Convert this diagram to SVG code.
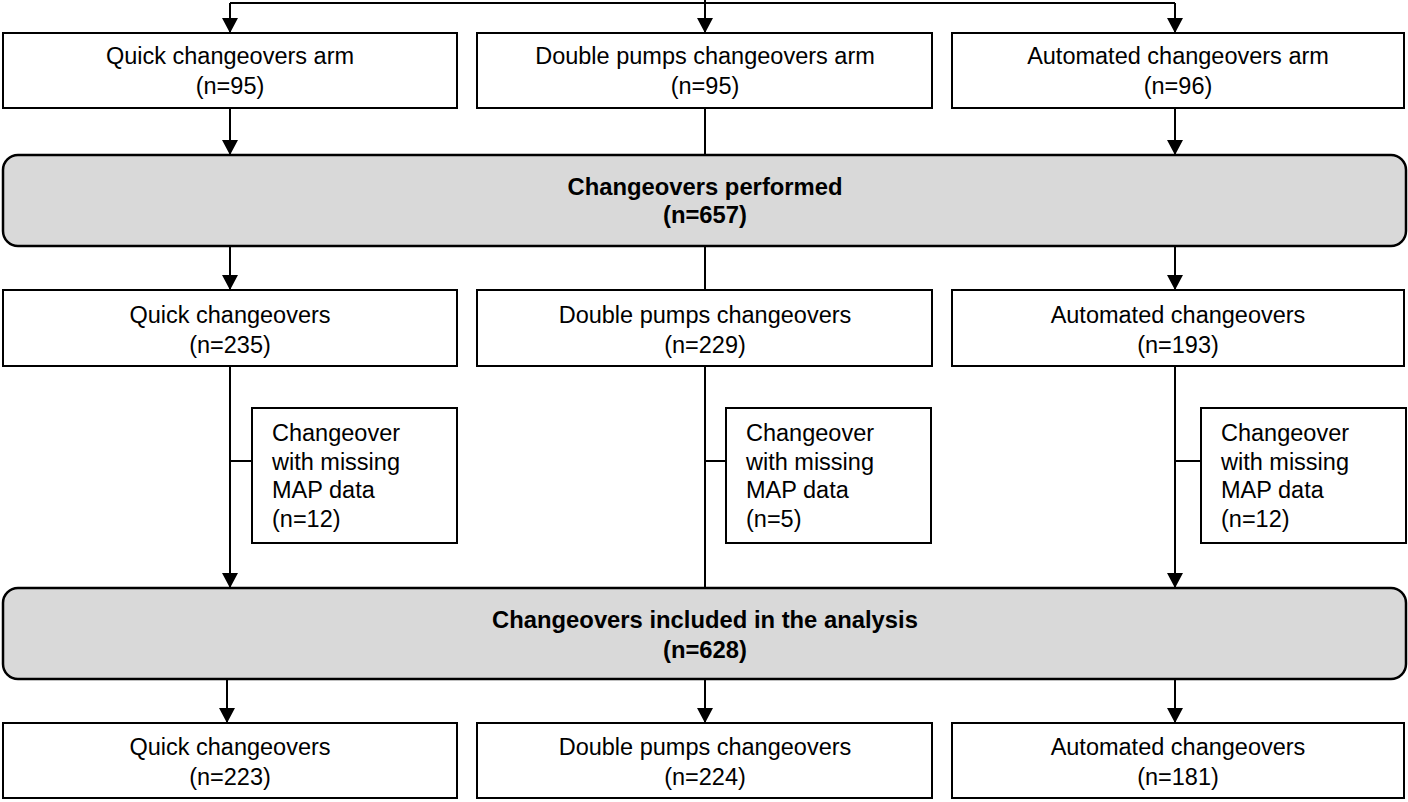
<svg xmlns="http://www.w3.org/2000/svg" width="1408" height="802" viewBox="0 0 1408 802">
<defs>
<marker id="arr" markerWidth="16" markerHeight="16" refX="15" refY="8" orient="auto" markerUnits="userSpaceOnUse">
<path d="M0,0 L15,8 L0,16 Z" fill="#000"/>
</marker>
<style>
.box{fill:#fff;stroke:#000;stroke-width:2}
.gray{fill:#d9d9d9;stroke:#000;stroke-width:2.5}
.t{font-family:"Liberation Sans",Arial,sans-serif;font-size:23.5px;fill:#000;text-anchor:middle}
.b{font-family:"Liberation Sans",Arial,sans-serif;font-size:23.8px;font-weight:bold;fill:#000;text-anchor:middle}
.l{font-family:"Liberation Sans",Arial,sans-serif;font-size:23.5px;fill:#000}
.c{fill:none;stroke:#000;stroke-width:2}
.ca{fill:none;stroke:#000;stroke-width:2;marker-end:url(#arr)}
</style>
</defs>
<rect width="1408" height="802" fill="#fff"/>
<g id="connectors">
<path class="c" d="M705,0 L705,3"/>
<path class="c" d="M230,3 L1175,3"/>
<path class="ca" d="M230,3 L230,33"/>
<path class="ca" d="M705,3 L705,33"/>
<path class="ca" d="M1175,3 L1175,33"/>
<path class="ca" d="M230,108 L230,155"/>
<path class="c" d="M705,108 L705,155"/>
<path class="ca" d="M1175,108 L1175,155"/>
<path class="ca" d="M230,246 L230,290"/>
<path class="c" d="M705,246 L705,290"/>
<path class="ca" d="M1175,246 L1175,290"/>
<path class="ca" d="M230,366 L230,588"/>
<path class="c" d="M705,366 L705,588"/>
<path class="ca" d="M1175,366 L1175,588"/>
<path class="c" d="M230,461 L252,461"/>
<path class="c" d="M705,461 L726,461"/>
<path class="c" d="M1175,461 L1201,461"/>
<path class="ca" d="M227,679 L227,723"/>
<path class="ca" d="M705,679 L705,723"/>
<path class="ca" d="M1175,679 L1175,723"/>
</g>
<g id="arm-quick"><rect class="box" x="3" y="33" width="454" height="75"/><text class="t" x="230" y="64">Quick changeovers arm</text><text class="t" x="230" y="94">(n=95)</text></g>
<g id="arm-double"><rect class="box" x="477" y="33" width="455" height="75"/><text class="t" x="705" y="64">Double pumps changeovers arm</text><text class="t" x="705" y="94">(n=95)</text></g>
<g id="arm-auto"><rect class="box" x="952" y="33" width="452" height="75"/><text class="t" x="1178" y="64">Automated changeovers arm</text><text class="t" x="1178" y="94">(n=96)</text></g>
<g id="performed"><rect class="gray" x="3" y="155" width="1403" height="91" rx="15" ry="15"/><text class="b" x="705" y="195">Changeovers performed</text><text class="b" x="705" y="223">(n=657)</text></g>
<g id="perf-quick"><rect class="box" x="3" y="290" width="454" height="76"/><text class="t" x="230" y="323">Quick changeovers</text><text class="t" x="230" y="353">(n=235)</text></g>
<g id="perf-double"><rect class="box" x="477" y="290" width="455" height="76"/><text class="t" x="705" y="323">Double pumps changeovers</text><text class="t" x="705" y="353">(n=229)</text></g>
<g id="perf-auto"><rect class="box" x="952" y="290" width="452" height="76"/><text class="t" x="1178" y="323">Automated changeovers</text><text class="t" x="1178" y="353">(n=193)</text></g>
<g id="excl-quick"><rect class="box" x="252" y="408" width="205" height="135"/><text class="l" x="272" y="441">Changeover</text><text class="l" x="272" y="470">with missing</text><text class="l" x="272" y="498">MAP data</text><text class="l" x="272" y="527">(n=12)</text></g>
<g id="excl-double"><rect class="box" x="726" y="408" width="205" height="135"/><text class="l" x="746" y="441">Changeover</text><text class="l" x="746" y="470">with missing</text><text class="l" x="746" y="498">MAP data</text><text class="l" x="746" y="527">(n=5)</text></g>
<g id="excl-auto"><rect class="box" x="1201" y="408" width="205" height="135"/><text class="l" x="1221" y="441">Changeover</text><text class="l" x="1221" y="470">with missing</text><text class="l" x="1221" y="498">MAP data</text><text class="l" x="1221" y="527">(n=12)</text></g>
<g id="included"><rect class="gray" x="3" y="588" width="1403" height="91" rx="15" ry="15"/><text class="b" x="705" y="628">Changeovers included in the analysis</text><text class="b" x="705" y="658">(n=628)</text></g>
<g id="final-quick"><rect class="box" x="3" y="723" width="454" height="75"/><text class="t" x="230" y="755">Quick changeovers</text><text class="t" x="230" y="785">(n=223)</text></g>
<g id="final-double"><rect class="box" x="477" y="723" width="455" height="75"/><text class="t" x="705" y="755">Double pumps changeovers</text><text class="t" x="705" y="785">(n=224)</text></g>
<g id="final-auto"><rect class="box" x="952" y="723" width="452" height="75"/><text class="t" x="1178" y="755">Automated changeovers</text><text class="t" x="1178" y="785">(n=181)</text></g>
</svg>
